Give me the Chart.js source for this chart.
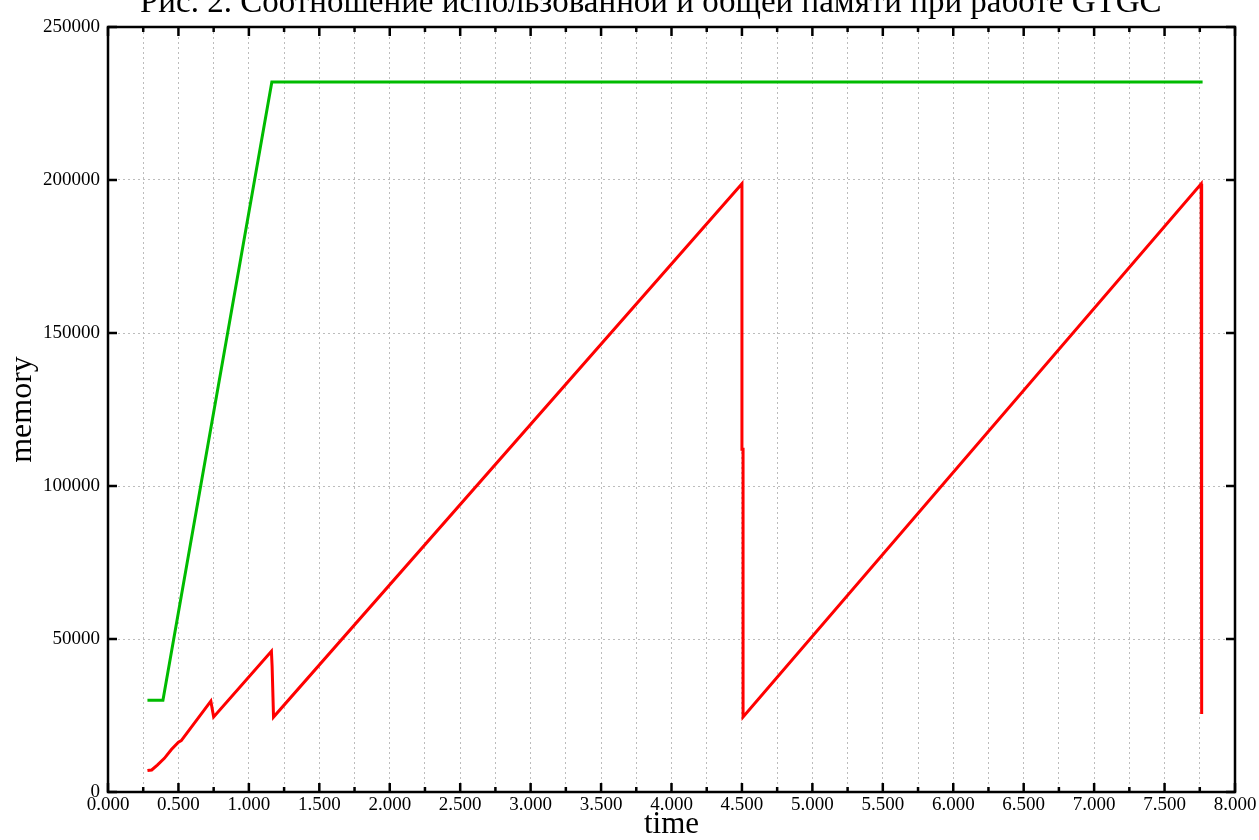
<!DOCTYPE html>
<html>
<head>
<meta charset="utf-8">
<script src="https://cdn.jsdelivr.net/npm/chart.js@4.4.1/dist/chart.umd.min.js"></script>
<style>
  html, body { margin: 0; padding: 0; background: #fff; overflow: hidden; }
  #wrap { position: relative; width: 1259px; height: 840px; }
  #title {
    position: absolute; left: 140px; top: -12px;
    font-family: 'Liberation Serif', serif; font-size: 35px; line-height: 1;
    white-space: nowrap; color: #000;
  }
</style>
</head>
<body>
<div id="wrap">
  <canvas id="memChart" width="1259" height="840"></canvas>
  <div id="title">Рис. 2. Соотношение использованной и общей памяти при работе GTGC</div>
</div>
<script>
// total memory (green)
const totalTime = [0.28, 0.39, 1.163, 7.77];
const totalMem = [30000, 30000, 232000, 232000];

// used memory (red)
const usedTime = [0.28, 0.31, 0.35, 0.40, 0.45, 0.50, 0.52, 0.73, 0.75, 1.160, 1.165, 1.175,
                  4.500, 4.500, 4.508, 4.508, 7.760, 7.760, 7.765, 7.765];
const usedMem = [7000, 7200, 8800, 11000, 13900, 16300, 16800, 29700, 24500, 46000, 41000, 24500,
                 198800, 112000, 112000, 24500, 198800, 112000, 112000, 25500];

const xMin = 0, xMax = 8, xStep = 0.25;
const yMin = 0, yMax = 250000, yStep = 50000;

const serif = 'Liberation Serif';

function toPoints(xs, ys) {
    return xs.map((x, i) => ({ x: x, y: ys[i] }));
}

function isHalf(v) {
    return Math.abs(v * 2 - Math.round(v * 2)) < 1e-6;
}

// gnuplot-like frame with inward tick marks on all four sides
const frameTicks = {
    id: 'frameTicks',
    afterDatasetsDraw(chart) {
        const { ctx, chartArea: a, scales: { x, y } } = chart;
        ctx.save();
        ctx.strokeStyle = '#000';
        ctx.lineWidth = 2.5;
        ctx.setLineDash([]);
        ctx.beginPath();
        x.ticks.forEach(t => {
            const px = x.getPixelForValue(t.value);
            const len = isHalf(t.value) ? 9 : 5;
            ctx.moveTo(px, a.bottom); ctx.lineTo(px, a.bottom - len);
            ctx.moveTo(px, a.top); ctx.lineTo(px, a.top + len);
        });
        y.ticks.forEach(t => {
            const py = y.getPixelForValue(t.value);
            ctx.moveTo(a.left, py); ctx.lineTo(a.left + 9, py);
            ctx.moveTo(a.right, py); ctx.lineTo(a.right - 9, py);
        });
        ctx.stroke();
        ctx.strokeRect(a.left, a.top, a.right - a.left, a.bottom - a.top);
        ctx.restore();
    }
};

const gridStyle = { color: '#bcbcbc', lineWidth: 1, drawTicks: false };
const borderStyle = { display: false, dash: [2, 3] };

new Chart(document.getElementById('memChart'), {
    type: 'line',
    data: {
        datasets: [{
            label: 'total',
            data: toPoints(totalTime, totalMem),
            borderColor: '#00bb00',
            borderWidth: 3,
            pointRadius: 0,
            tension: 0
        }, {
            label: 'used',
            data: toPoints(usedTime, usedMem),
            borderColor: '#ff0000',
            borderWidth: 3,
            pointRadius: 0,
            tension: 0
        }]
    },
    options: {
        responsive: false,
        animation: false,
        devicePixelRatio: 1,
        layout: { padding: { top: 27, right: 24, left: 0, bottom: 0 } },
        plugins: {
            legend: { display: false },
            tooltip: { enabled: false }
        },
        scales: {
            x: {
                type: 'linear',
                min: xMin, max: xMax,
                grid: gridStyle,
                border: borderStyle,
                ticks: {
                    stepSize: xStep,
                    autoSkip: false,
                    maxRotation: 0,
                    padding: 2,
                    color: '#000',
                    font: { family: serif, size: 19 },
                    callback: v => isHalf(v) ? v.toFixed(3) : ''
                },
                title: {
                    display: true,
                    text: 'time',
                    color: '#000',
                    font: { family: serif, size: 31, lineHeight: 1 },
                    padding: 0
                },
                afterFit: s => { s.height = 48; }
            },
            y: {
                min: yMin, max: yMax,
                grid: gridStyle,
                border: borderStyle,
                ticks: {
                    stepSize: yStep,
                    padding: 8,
                    color: '#000',
                    font: { family: serif, size: 19 },
                    callback: v => String(v)
                },
                title: {
                    display: true,
                    text: 'memory',
                    color: '#000',
                    font: { family: serif, size: 32, lineHeight: 1.2 },
                    padding: { top: 3, bottom: 0 }
                },
                afterFit: s => { s.width = 108; }
            }
        }
    },
    plugins: [frameTicks]
});

// fit the (cropped) caption to the width seen in the picture
const title = document.getElementById('title');
const fs = 35 * 1022 / title.offsetWidth;
title.style.fontSize = fs + 'px';
title.style.top = (13 - 0.8375 * fs) + 'px';
</script>
</body>
</html>
